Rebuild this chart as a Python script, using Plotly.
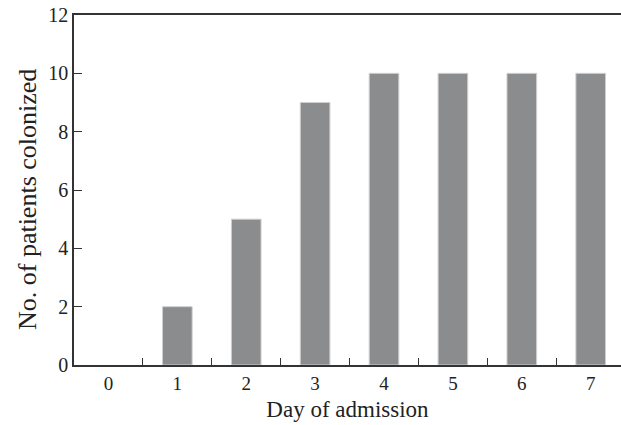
import plotly.graph_objects as go

days = [0, 1, 2, 3, 4, 5, 6, 7]
day_labels = ["0", "1", "2", "3", "4", "5", "6", "7"]
patients_colonized = [0, 2, 5, 9, 10, 10, 10, 10]
y_ticks = [0, 2, 4, 6, 8, 10, 12]

font = dict(family="Liberation Serif, Times New Roman, serif", size=20, color="#222222")

# light edge only on bars that have height
edge_widths = [1 if v > 0 else 0 for v in patients_colonized]

fig = go.Figure(
    go.Bar(
        x=days,
        y=patients_colonized,
        width=0.43,
        marker=dict(color="#8b8c8e", line=dict(color="#cfcfcf", width=edge_widths)),
    )
)

fig.update_layout(
    width=621,
    height=425,
    margin=dict(l=74, r=0, t=15, b=60),
    plot_bgcolor="white",
    paper_bgcolor="white",
    font=font,
    showlegend=False,
    xaxis=dict(
        range=[-0.5, 7.44],
        tickvals=days,
        ticktext=day_labels,
        ticks="inside",
        ticklen=0,
        minor=dict(tick0=0.5, dtick=1, ticks="inside", ticklen=7, tickcolor="#333333", tickwidth=1.3),
        showline=True,
        linecolor="#333333",
        linewidth=1.5,
        mirror=True,
        showgrid=False,
        zeroline=False,
        tickfont=dict(size=19),
        title=dict(text="Day of admission", font=dict(size=23), standoff=8),
    ),
    yaxis=dict(
        range=[0, 12],
        tickvals=y_ticks,
        ticks="inside",
        ticklen=8,
        tickcolor="#333333",
        tickwidth=1.3,
        showline=True,
        linecolor="#333333",
        linewidth=1.5,
        showgrid=False,
        zeroline=False,
        tickfont=dict(size=20),
    ),
    annotations=[
        dict(
            text="No. of patients colonized",
            textangle=-90,
            xref="paper",
            yref="paper",
            x=-0.086,
            y=0.474,
            xanchor="center",
            yanchor="middle",
            showarrow=False,
            font=dict(size=26),
        )
    ],
)

fig.write_html("out.html")
